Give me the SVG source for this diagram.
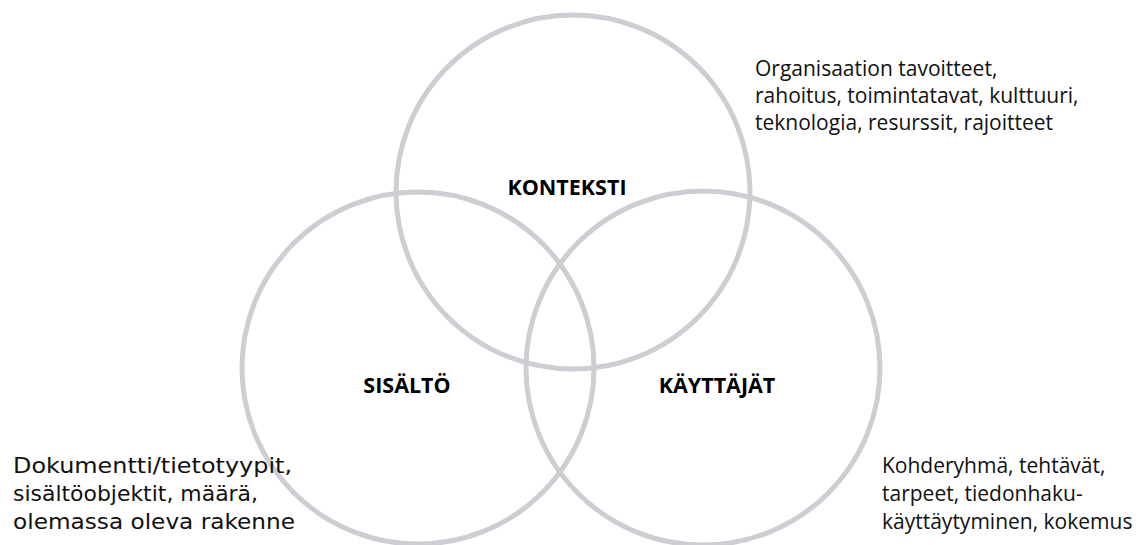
<svg xmlns="http://www.w3.org/2000/svg" width="1141" height="545" viewBox="0 0 1141 545">
<style>
.c{fill:none;stroke:#cfcdd3;stroke-width:5}
.t{font-family:"Open Sans","Liberation Sans",sans-serif;font-size:21px;fill:#111}
.w{font-family:"DejaVu Sans","Open Sans",sans-serif;font-size:21px;fill:#111}
.h{font-family:"Open Sans","Liberation Sans",sans-serif;font-size:21.5px;font-weight:bold;fill:#000;text-anchor:middle}
</style>
<rect width="1141" height="545" fill="#fff"/>
<g id="connectors"></g>
<g id="konteksti">
<circle class="c" cx="573" cy="192" r="177"/>
<text class="h" x="567" y="195">KONTEKSTI</text>
</g>
<g id="sisalto">
<circle class="c" cx="418" cy="368" r="176"/>
<text class="h" x="407" y="393">SISÄLTÖ</text>
</g>
<g id="kayttajat">
<circle class="c" cx="703" cy="368" r="177"/>
<text class="h" x="717" y="393">KÄYTTÄJÄT</text>
</g>
<g id="note-konteksti">
<text class="t" x="755" y="76">Organisaation tavoitteet,</text>
<text class="t" x="755" y="103">rahoitus, toimintatavat, kulttuuri,</text>
<text class="t" x="755" y="130">teknologia, resurssit, rajoitteet</text>
</g>
<g id="note-sisalto">
<text class="w" x="13" y="473" textLength="279" lengthAdjust="spacingAndGlyphs">Dokumentti/tietotyypit,</text>
<text class="w" x="13" y="501" textLength="245" lengthAdjust="spacingAndGlyphs">sisältöobjektit, määrä,</text>
<text class="w" x="13" y="529" textLength="282" lengthAdjust="spacingAndGlyphs">olemassa oleva rakenne</text>
</g>
<g id="note-kayttajat">
<text class="t" x="882" y="473">Kohderyhmä, tehtävät,</text>
<text class="t" x="882" y="501">tarpeet, tiedonhaku-</text>
<text class="t" x="882" y="529">käyttäytyminen, kokemus</text>
</g>
</svg>
